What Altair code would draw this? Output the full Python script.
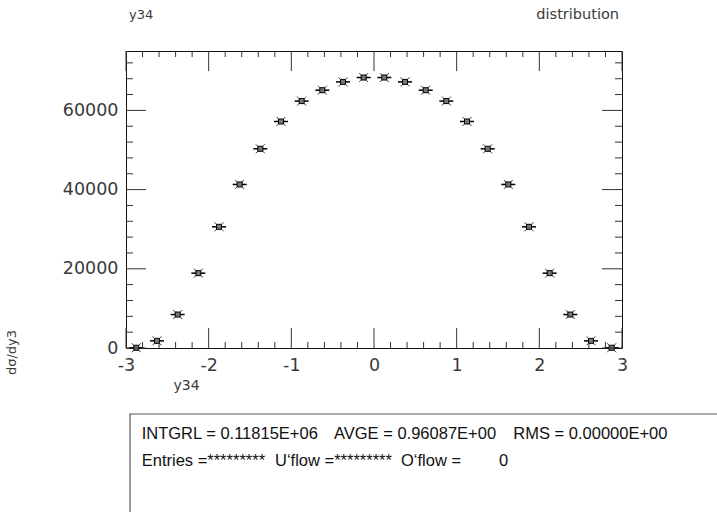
import altair as alt
import pandas as pd

# ---- data ----
bin_centers = [-2.875, -2.625, -2.375, -2.125, -1.875, -1.625, -1.375, -1.125,
               -0.875, -0.625, -0.375, -0.125, 0.125, 0.375, 0.625, 0.875,
               1.125, 1.375, 1.625, 1.875, 2.125, 2.375, 2.625, 2.875]
values = [60, 1800, 8450, 18900, 30600, 41300, 50300, 57200,
          62350, 65100, 67200, 68300, 68300, 67200, 65100, 62350,
          57200, 50300, 41300, 30600, 18900, 8450, 1800, 60]

x_major = [-3, -2, -1, 0, 1, 2, 3]
x_minor = [-2.8, -2.6, -2.4, -2.2, -1.8, -1.6, -1.4, -1.2, -0.8, -0.6, -0.4, -0.2,
           0.2, 0.4, 0.6, 0.8, 1.2, 1.4, 1.6, 1.8, 2.2, 2.4, 2.6, 2.8]
y_major = [0, 20000, 40000, 60000]
y_minor = [4000, 8000, 12000, 16000, 24000, 28000, 32000, 36000,
           44000, 48000, 52000, 56000, 64000, 68000, 72000]

stats_line1 = ["INTGRL = 0.11815E+06", "AVGE = 0.96087E+00", "RMS = 0.00000E+00"]
stats_line2 = ["Entries =*********", "U\u2018flow =*********", "O\u2018flow =", "0"]

W, H = 496, 297
HF = "DejaVu Sans"
SF = "Liberation Sans"
LW = "normal"
LC = "#3a3a3a"

df = pd.DataFrame({"x": bin_centers, "y": values})
xs = alt.Scale(domain=[-3, 3], nice=False, zero=False)
ys = alt.Scale(domain=[0, 75000], nice=False, zero=False)

xaxis = alt.Axis(values=x_major, ticks=False, domain=False, grid=False,
                 labelFont=HF, labelFontSize=17.5, labelFontWeight=LW, labelColor=LC,
                 labelPadding=8, labelExpr="'' + datum.value", labelFlush=False,
                 title="y34", titleFont=HF, titleFontSize=14, titleFontWeight=LW,
                 titleColor=LC, titleX=60, titleY=37, titleAlign="center",
                 titleBaseline="middle")
yaxis = alt.Axis(values=y_major, ticks=False, domain=False, grid=False, format="d",
                 labelFont=HF, labelFontSize=17.5, labelFontWeight=LW, labelColor=LC,
                 labelPadding=8, labelFlush=False,
                 title="d\u03c3/dy3", titleFont=HF, titleFontSize=13, titleFontWeight=LW,
                 titleColor=LC, titleX=-115, titleY=301, titleAlign="center",
                 titleBaseline="middle", titleAngle=-90)

base = alt.Chart(df).encode(x=alt.X("x:Q", scale=xs, axis=xaxis),
                            y=alt.Y("y:Q", scale=ys, axis=yaxis))
hbar = base.mark_point(shape="M-1,0L1,0", size=196, filled=False, stroke="black",
                       strokeWidth=1.5, opacity=1)
xmark = base.mark_point(shape="M-1,-1L1,1M-1,1L1,-1", size=81, filled=False,
                        stroke="#222", strokeWidth=0.9, opacity=1)
sq = base.mark_point(shape="square", size=25, filled=True, fill="#777",
                     stroke="black", strokeWidth=1, opacity=1)


def xticks(vals, y0, y1):
    d = pd.DataFrame({"v": vals})
    return alt.Chart(d).mark_rule(color="#333", strokeWidth=1).encode(
        x=alt.X("v:Q", scale=xs, axis=xaxis), y=alt.value(y0), y2=alt.value(y1))


def yticks(vals, x0, x1):
    d = pd.DataFrame({"v": vals})
    return alt.Chart(d).mark_rule(color="#333", strokeWidth=1).encode(
        y=alt.Y("v:Q", scale=ys, axis=yaxis), x=alt.value(x0), x2=alt.value(x1))


ticks = [
    xticks(x_major, H, H - 20), xticks(x_major, 0, 20),
    xticks(x_minor, H, H - 6), xticks(x_minor, 0, 6),
    yticks(y_major, 0, 20), yticks(y_major, W, W - 20),
    yticks(y_minor, 0, 7), yticks(y_minor, W, W - 7),
]

one = alt.Data(values=[{}])


def label(text, x, y, font, size, align="left", baseline="middle", weight="normal",
          color="#111"):
    return alt.Chart(one).mark_text(text=text, font=font, fontSize=size, align=align,
                                    baseline=baseline, fontWeight=weight,
                                    color=color).encode(
        x=alt.value(x), y=alt.value(y))


annots = [
    label("y34", 3, -36, HF, 13, weight=LW, color=LC),
    label("distribution", 493, -36, HF, 14.5, align="right", weight=LW, color=LC),
]

box = alt.Chart(one).mark_rect(fillOpacity=0, stroke="#555", strokeWidth=1.2).encode(
    x=alt.value(4), x2=alt.value(W + 120), y=alt.value(363), y2=alt.value(H + 200))

stats = [
    label(stats_line1[0], 15.7, 388, SF, 16.5, baseline="alphabetic"),
    label(stats_line1[1], 208, 388, SF, 16.5, baseline="alphabetic"),
    label(stats_line1[2], 387.3, 388, SF, 16.5, baseline="alphabetic"),
    label(stats_line2[0], 15.7, 414.7, SF, 16.5, baseline="alphabetic"),
    label(stats_line2[1], 149, 414.7, SF, 16.5, baseline="alphabetic"),
    label(stats_line2[2], 275, 414.7, SF, 16.5, baseline="alphabetic"),
    label(stats_line2[3], 373, 414.7, SF, 16.5, baseline="alphabetic"),
]

chart = alt.layer(hbar, xmark, sq, *ticks, *annots, box, *stats).properties(
    width=W, height=H,
    autosize=alt.AutoSizeParams(type="none"),
    padding={"left": 126, "top": 51, "right": 717 - 126 - W, "bottom": 512 - 51 - H},
    background="white",
).configure_view(stroke="#111", strokeWidth=1)

chart.save("out.html", embed_options={"renderer": "svg", "actions": False})
